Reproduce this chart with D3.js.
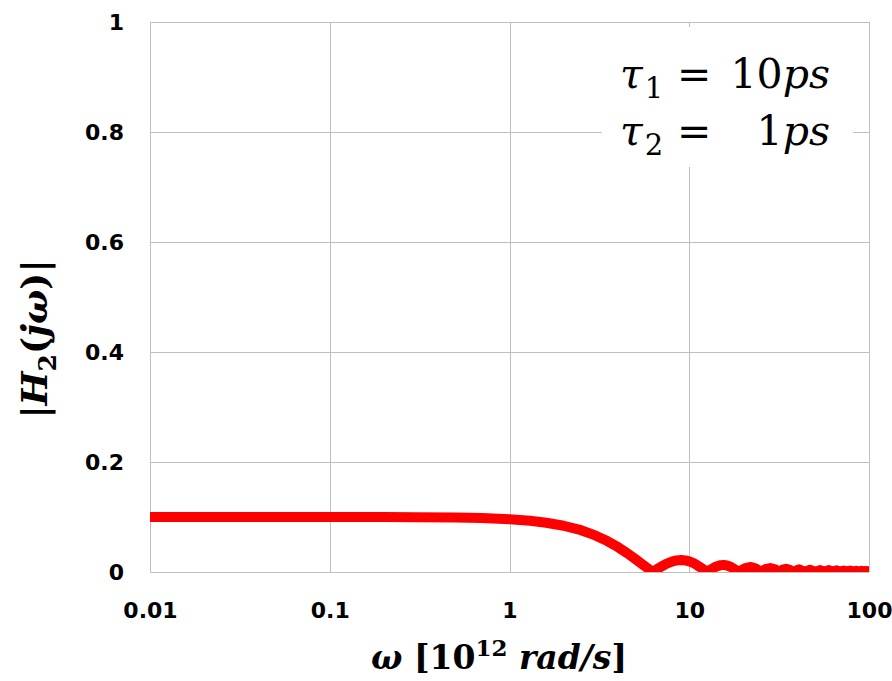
<!DOCTYPE html>
<html>
<head>
<meta charset="utf-8">
<script src="https://cdn.jsdelivr.net/npm/d3@7"></script>
<style>
body { margin: 0; background: #fff; }
svg { display: block; }
.grid line, .grid path { stroke: #bfbfbf; stroke-width: 1; shape-rendering: crispEdges; }
.grid text { font-family: "DejaVu Sans"; font-weight: bold; font-size: 22px; fill: #000; }
.math { font-family: "DejaVu Serif"; fill: #000; }
</style>
</head>
<body>
<svg width="892" height="681"></svg>
<script>
// omega in 10^12 rad/s, |H2(jw)|
var omega = [0.01, 0.03, 0.1, 0.2, 0.3, 0.5, 0.7, 1, 1.3, 1.6, 2, 2.5, 3, 3.5, 4, 4.5, 5, 5.5, 6, 6.28,
  6.6, 7, 7.5, 8, 8.5, 9, 9.5, 10, 10.5, 11, 11.5, 12, 12.57, 13, 14, 15, 15.5, 16, 17, 18,
  18.85, 19.5, 20.5, 22, 23.5, 25.1, 26.5, 28.3, 30, 31.4, 33, 34.6, 36.2, 37.7, 40.8, 44.0, 47.1, 50.3, 53.4, 56.5,
  59.7, 62.8, 66.0, 69.1, 72.3, 75.4, 78.5, 81.7, 84.8, 88.0, 91.1, 94.2, 97.4, 100];
var magnitude = [0.100, 0.100, 0.100, 0.0998, 0.0996, 0.099, 0.098, 0.0959, 0.0931, 0.0895, 0.0841, 0.076, 0.0665, 0.0562, 0.0455, 0.0346, 0.0239, 0.0138, 0.0047, 0,
  0.0048, 0.010, 0.0152, 0.0189, 0.0211, 0.0217, 0.021, 0.0192, 0.0164, 0.0128, 0.0088, 0.0047, 0, 0.0033, 0.0094, 0.0125, 0.0128, 0.0124, 0.0094, 0.0046,
  0, 0.0033, 0.0072, 0.0091, 0.0062, 0, 0.005, 0.0071, 0.005, 0, 0.0042, 0.0058, 0.0041, 0, 0.0049, 0, 0.0042, 0, 0.0037, 0,
  0.0034, 0, 0.003, 0, 0.0028, 0, 0.0025, 0, 0.0024, 0, 0.0022, 0, 0.002, 0.0006];

var xTicks = [0.01, 0.1, 1, 10, 100];
var xTickLabels = ["0.01", "0.1", "1", "10", "100"];
var yTicks = [0, 0.2, 0.4, 0.6, 0.8, 1];
var yTickLabels = ["0", "0.2", "0.4", "0.6", "0.8", "1"];

var data = omega.map(function(w, i) { return {x: w, y: magnitude[i]}; });

var margin = {left: 150, top: 22, right: 23, bottom: 109};
var svg = d3.select("svg");
var width  = 892 - margin.left - margin.right;
var height = 681 - margin.top - margin.bottom;
var svgG = svg.append("g")
    .attr("transform", "translate(" + margin.left + "," + margin.top + ")");

var xScale = d3.scaleLog()
    .domain([0.01, 100])
    .range([0, width]);
var yScale = d3.scaleLinear()
    .domain([0, 1])
    .range([height, 0]);

svgG.append("g")
    .attr("class", "grid")
    .attr("transform", "translate(0," + height + ")")
    .call(d3.axisBottom(xScale)
        .tickValues(xTicks)
        .tickFormat(function(d, i) { return xTickLabels[i]; })
        .tickSize(-height)
        .tickSizeOuter(0)
        .tickPadding(30));

svgG.append("g")
    .attr("class", "grid")
    .call(d3.axisLeft(yScale)
        .tickValues(yTicks)
        .tickFormat(function(d, i) { return yTickLabels[i]; })
        .tickSize(-width)
        .tickSizeOuter(0)
        .tickPadding(26));

svgG.selectAll(".grid .domain").remove();

// white box behind the parameters
svgG.append("rect")
    .attr("x", 452).attr("y", 5)
    .attr("width", 251).attr("height", 140)
    .attr("fill", "#fff");

var params = [{sub: "1", val: "10"}, {sub: "2", val: "1"}];
var pG = svg.append("g").attr("class", "math").style("font-size", "41px");
params.forEach(function(p, i) {
    var by = 88 + i * 57;
    var t = pG.append("text").attr("x", 620).attr("y", by);
    t.append("tspan").style("font-style", "italic").text("\u03c4");
    t.append("tspan").attr("dy", 10).attr("dx", 2).style("font-size", "29px").text(p.sub);
    pG.append("text").attr("x", 677).attr("y", by).text("=");
    var v = pG.append("text").attr("x", 830).attr("y", by).attr("text-anchor", "end");
    v.append("tspan").text(p.val);
    v.append("tspan").style("font-style", "italic").text("ps");
});

svg.append("clipPath").attr("id", "plotClip")
  .append("rect").attr("x", 0).attr("y", 0).attr("width", width).attr("height", height);

var line = d3.line()
    .x(function(d) { return xScale(d.x); })
    .y(function(d) { return yScale(d.y); });

svgG.append("path")
    .datum(data)
    .attr("clip-path", "url(#plotClip)")
    .attr("fill", "none")
    .attr("stroke", "#ff0000")
    .attr("stroke-width", 10)
    .attr("stroke-linejoin", "round")
    .attr("d", line);

// axis titles
var xt = svg.append("text").attr("class", "math")
    .attr("x", 499).attr("y", 669)
    .attr("text-anchor", "middle")
    .style("font-size", "33px").style("font-weight", "bold");
xt.append("tspan").style("font-style", "italic").text("\u03c9");
xt.append("tspan").text(" [10");
xt.append("tspan").attr("dy", -13).style("font-size", "23px").text("12");
xt.append("tspan").attr("dy", 13).style("font-style", "italic").text(" rad/s");
xt.append("tspan").text("]");

var yt = svg.append("text").attr("class", "math")
    .attr("transform", "translate(47,339) rotate(-90)")
    .attr("text-anchor", "middle")
    .style("font-size", "36px").style("font-weight", "bold");
yt.append("tspan").text("|");
yt.append("tspan").style("font-style", "italic").text("H");
yt.append("tspan").attr("dy", 9).style("font-size", "25px").text("2");
yt.append("tspan").attr("dy", -9).text("(");
yt.append("tspan").style("font-style", "italic").text("j\u03c9");
yt.append("tspan").text(")|");
</script>
</body>
</html>
